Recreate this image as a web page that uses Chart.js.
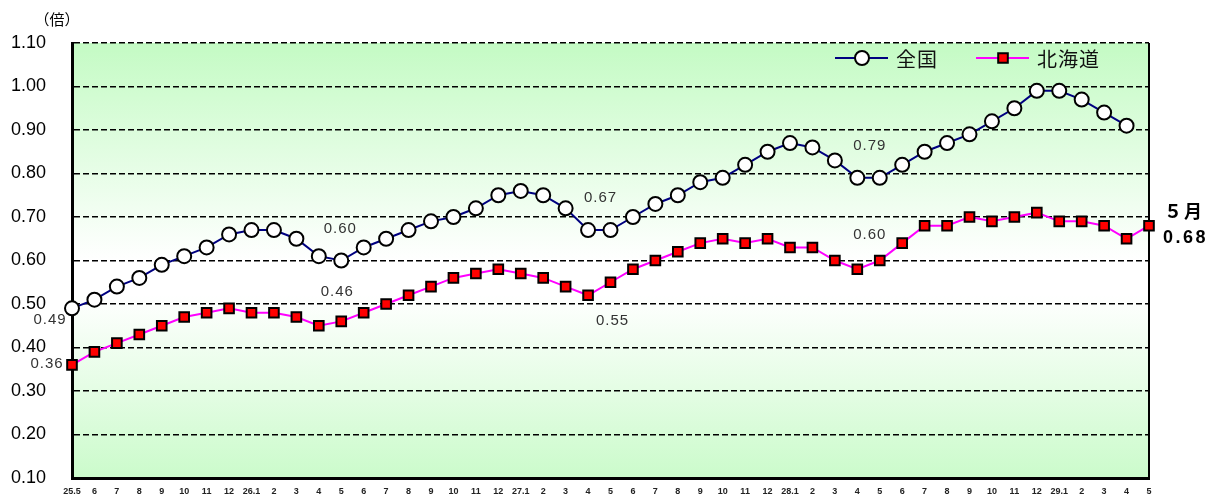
<!DOCTYPE html>
<html lang="ja">
<head>
<meta charset="utf-8">
<title>有効求人倍率の推移</title>
<script src="https://cdn.jsdelivr.net/npm/chart.js@4.4.1/dist/chart.umd.min.js"></script>
<style>
  html, body { margin: 0; padding: 0; background: #fff; overflow: hidden; }
  canvas { display: block; }
</style>
</head>
<body>
<canvas id="chart" width="1218" height="497"></canvas>
<script>
// x labels: H25.5 .. H29.5
const months = [
  '25.5','6','7','8','9','10','11','12',
  '26.1','2','3','4','5','6','7','8','9','10','11','12',
  '27.1','2','3','4','5','6','7','8','9','10','11','12',
  '28.1','2','3','4','5','6','7','8','9','10','11','12',
  '29.1','2','3','4','5'
];

// 全国 (no value yet for the last month)
const national = [
  0.49, 0.51, 0.54, 0.56, 0.59, 0.61, 0.63, 0.66,
  0.67, 0.67, 0.65, 0.61, 0.60, 0.63, 0.65, 0.67, 0.69, 0.70, 0.72, 0.75,
  0.76, 0.75, 0.72, 0.67, 0.67, 0.70, 0.73, 0.75, 0.78, 0.79, 0.82, 0.85,
  0.87, 0.86, 0.83, 0.79, 0.79, 0.82, 0.85, 0.87, 0.89, 0.92, 0.95, 0.99,
  0.99, 0.97, 0.94, 0.91, null
];

// 北海道
const hokkaido = [
  0.36, 0.39, 0.41, 0.43, 0.45, 0.47, 0.48, 0.49,
  0.48, 0.48, 0.47, 0.45, 0.46, 0.48, 0.50, 0.52, 0.54, 0.56, 0.57, 0.58,
  0.57, 0.56, 0.54, 0.52, 0.55, 0.58, 0.60, 0.62, 0.64, 0.65, 0.64, 0.65,
  0.63, 0.63, 0.60, 0.58, 0.60, 0.64, 0.68, 0.68, 0.70, 0.69, 0.70, 0.71,
  0.69, 0.69, 0.68, 0.65, 0.68
];

const seriesNames = ['全国', '北海道'];
const yTicks = [0.10, 0.20, 0.30, 0.40, 0.50, 0.60, 0.70, 0.80, 0.90, 1.00, 1.10];

// value labels next to some points: dataset index, point index, pixel offset
const notes = [
  { ds: 0, i: 0,  dx: -22, dy: 12 },
  { ds: 1, i: 0,  dx: -25, dy: -1 },
  { ds: 0, i: 12, dx: -1,  dy: -32 },
  { ds: 1, i: 12, dx: -4,  dy: -30 },
  { ds: 0, i: 24, dx: -10, dy: -32 },
  { ds: 1, i: 24, dx: 2,   dy: 39 },
  { ds: 0, i: 36, dx: -10, dy: -32 },
  { ds: 1, i: 36, dx: -10, dy: -26 }
];

const FONT = '"Liberation Sans", Arial, sans-serif';
const JP = '"Noto Sans CJK JP", "Noto Sans", sans-serif';

// plot background: green - white - green
const bgPlugin = {
  id: 'bg',
  beforeDraw(chart) {
    const { ctx, chartArea: a } = chart;
    const g = ctx.createLinearGradient(0, a.top, 0, a.bottom);
    g.addColorStop(0, '#c4fbc4');
    g.addColorStop(0.5, '#ffffff');
    g.addColorStop(0.58, '#ffffff');
    g.addColorStop(1, '#cbfbcb');
    ctx.save();
    ctx.fillStyle = g;
    ctx.fillRect(a.left, a.top, a.right - a.left, a.bottom - a.top);
    ctx.restore();
  },
  beforeDatasetsDraw(chart) {
    const { ctx, chartArea: a } = chart;
    ctx.save();
    ctx.strokeStyle = '#000';
    ctx.lineWidth = 2;
    ctx.beginPath();
    ctx.moveTo(a.right, a.top);
    ctx.lineTo(a.right, a.bottom);
    ctx.stroke();
    ctx.restore();
  }
};

// legend drawn inside the plot, line + marker like the original
const legendPlugin = {
  id: 'insideLegend',
  afterDraw(chart) {
    const { ctx, chartArea: a } = chart;
    const y = a.top + 15;
    const items = [
      { ds: 0, x: a.right - 314 },
      { ds: 1, x: a.right - 173 }
    ];
    ctx.save();
    items.forEach(it => {
      const d = chart.data.datasets[it.ds];
      ctx.strokeStyle = d.borderColor;
      ctx.lineWidth = 2;
      ctx.beginPath();
      ctx.moveTo(it.x, y);
      ctx.lineTo(it.x + 53, y);
      ctx.stroke();
      ctx.fillStyle = d.pointBackgroundColor;
      ctx.strokeStyle = d.pointBorderColor;
      ctx.lineWidth = d.pointBorderWidth;
      Chart.helpers.drawPoint(ctx, {
        pointStyle: d.pointStyle, rotation: 0,
        radius: d.pointRadius, borderWidth: d.pointBorderWidth
      }, it.x + 27, y);
      ctx.fillStyle = '#111';
      ctx.font = '20px ' + JP;
      ctx.letterSpacing = '1px';
      ctx.textBaseline = 'middle';
      ctx.textAlign = 'left';
      ctx.fillText(d.label, it.x + 61, y + 1);
    });
    ctx.restore();
  }
};

// numbers beside points, unit, latest month
const textPlugin = {
  id: 'texts',
  afterDatasetsDraw(chart) {
    const { ctx } = chart;
    ctx.save();
    ctx.textBaseline = 'middle';
    ctx.textAlign = 'center';
    ctx.fillStyle = '#333';
    ctx.font = '15px ' + FONT;
    ctx.letterSpacing = '1px';
    notes.forEach(n => {
      const pt = chart.getDatasetMeta(n.ds).data[n.i];
      const v = chart.data.datasets[n.ds].data[n.i];
      ctx.fillText(v.toFixed(2), pt.x + n.dx, pt.y + n.dy);
    });

    // latest Hokkaido value at the right edge
    const last = hokkaido.length - 1;
    const lp = chart.getDatasetMeta(1).data[last];
    const lastMonth = months[last].split('.').pop();
    ctx.fillStyle = '#000';
    ctx.textAlign = 'left';
    ctx.font = 'bold 18px ' + JP;
    ctx.letterSpacing = '2px';
    ctx.fillText(String.fromCharCode(0xFF10 + Number(lastMonth)) + '月', lp.x + 15, lp.y - 15);
    ctx.font = 'bold 18px ' + FONT;
    ctx.letterSpacing = '2.5px';
    ctx.fillText(hokkaido[last].toFixed(2), lp.x + 14, lp.y + 12);

    // unit
    ctx.font = '15px ' + JP;
    ctx.letterSpacing = '0px';
    ctx.fillStyle = '#000';
    ctx.textAlign = 'center';
    ctx.fillText('（倍）', 57, 19);
    ctx.restore();
  }
};

new Chart(document.getElementById('chart'), {
  type: 'line',
  data: {
    labels: months,
    datasets: [
      {
        label: seriesNames[0],
        data: national,
        borderColor: '#000080',
        borderWidth: 2,
        pointStyle: 'circle',
        pointRadius: 7,
        pointBorderWidth: 2,
        pointBackgroundColor: '#ffffff',
        pointBorderColor: '#000000',
        tension: 0,
        clip: false
      },
      {
        label: seriesNames[1],
        data: hokkaido,
        borderColor: '#ff00ff',
        borderWidth: 2,
        pointStyle: 'rect',
        pointRadius: 6.8,
        pointBorderWidth: 2,
        pointBackgroundColor: '#ff0000',
        pointBorderColor: '#000000',
        tension: 0,
        clip: false
      }
    ]
  },
  options: {
    responsive: false,
    animation: false,
    layout: { padding: { top: 43, right: 69, bottom: 0, left: 11 } },
    plugins: {
      legend: { display: false },
      tooltip: { enabled: false }
    },
    scales: {
      x: {
        offset: false,
        grid: { display: false, drawTicks: false },
        border: { display: true, color: '#000', width: 3 },
        ticks: {
          autoSkip: false,
          maxRotation: 0,
          padding: 8,
          color: '#222',
          font: { family: FONT, size: 9, weight: 'bold' }
        },
        afterFit: s => { s.height = 19; }
      },
      y: {
        min: yTicks[0],
        max: yTicks[yTicks.length - 1],
        afterBuildTicks: s => { s.ticks = yTicks.map(v => ({ value: v })); },
        grid: { color: '#000', lineWidth: 1.5, drawTicks: false },
        border: { display: true, color: '#000', width: 3, dash: [6, 3] },
        ticks: {
          padding: 0,
          crossAlign: 'far',
          color: '#000',
          font: { family: FONT, size: 18 },
          callback: v => Number(v).toFixed(2)
        },
        afterFit: s => { s.width = 61; }
      }
    }
  },
  plugins: [bgPlugin, legendPlugin, textPlugin]
});
</script>
</body>
</html>
